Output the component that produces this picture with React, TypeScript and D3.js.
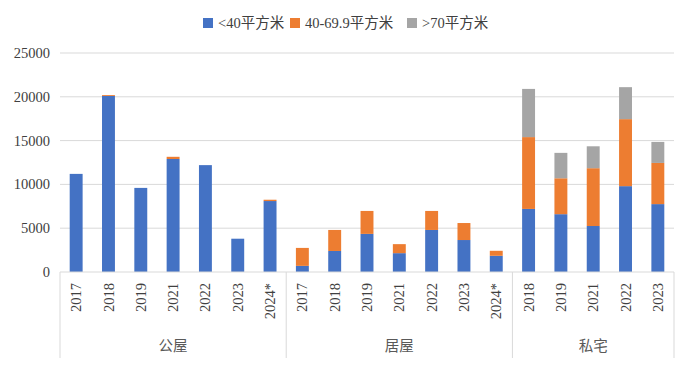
import React from "react";
import * as d3 from "d3";

// groups and their year labels
const groups = ["公屋", "居屋", "私宅"];
const groupYears = [
  ["2017", "2018", "2019", "2021", "2022", "2023", "2024*"],
  ["2017", "2018", "2019", "2021", "2022", "2023", "2024*"],
  ["2018", "2019", "2021", "2022", "2023"],
];

// series values, in the same order as the categories above
const seriesNames = ["<40平方米", "40-69.9平方米", ">70平方米"];
const small = [11200, 20100, 9600, 12900, 12200, 3800, 8100, 700, 2400, 4350, 2150, 4800, 3650, 1850, 7200, 6600, 5250, 9800, 7750];
const medium = [0, 100, 0, 250, 0, 0, 150, 2050, 2400, 2620, 1030, 2170, 1940, 570, 8200, 4100, 6600, 7650, 4700];
const large = [0, 0, 0, 0, 0, 0, 0, 0, 0, 0, 0, 0, 0, 0, 5500, 2900, 2500, 3650, 2400];
const yTicks = [0, 5000, 10000, 15000, 20000, 25000];

const colors = ["#4472C4", "#ED7D31", "#A5A5A5"];

const W = 693, H = 367;
const margin = { left: 60, right: 19, top: 53, bottom: 95 };

export default function App() {
  const cats: { key: string; year: string; group: number }[] = [];
  groupYears.forEach((ys, gi) => ys.forEach(y => cats.push({ key: gi + "|" + y, year: y, group: gi })));

  const rows = cats.map((c, i) => ({ key: c.key, s0: small[i], s1: medium[i], s2: large[i] }));
  const layers = d3.stack<any>().keys(["s0", "s1", "s2"])(rows);

  const x = d3.scaleBand()
    .domain(cats.map(c => c.key))
    .range([margin.left, W - margin.right])
    .paddingInner(0.6)
    .paddingOuter(0.3);

  const y = d3.scaleLinear().domain([0, 25000]).range([H - margin.bottom, margin.top]);

  const step = x.step();
  const x0 = margin.left;
  let bounds: number[] = [x0];
  let acc = 0;
  groupYears.forEach(ys => { acc += ys.length; bounds.push(x0 + acc * step); });

  const base = y(0);
  const font = "Liberation Serif, DejaVu Serif, Noto Sans CJK SC, serif";

  // legend positions
  const legendX = [203, 290, 407];

  return (
    <svg width={W} height={H} style={{ position: "absolute", left: 0, top: 0, background: "#fff" }}>
      {yTicks.map(t => (
        <g key={t}>
          {t > 0 && <line x1={margin.left} x2={W - margin.right} y1={y(t)} y2={y(t)} stroke="#d9d9d9" strokeWidth={1} />}
          <text x={50} y={y(t)} dy="0.35em" textAnchor="end" fontSize={14.5} style={{ fontFamily: font }} fill="#404040">{t}</text>
        </g>
      ))}

      {layers.map((layer, li) => (
        <g key={layer.key} fill={colors[li]}>
          {layer.map((d, i) => d[1] - d[0] > 0 ? (
            <rect key={i} x={x(cats[i].key)} width={x.bandwidth()} y={y(d[1])} height={y(d[0]) - y(d[1])} />
          ) : null)}
        </g>
      ))}

      <line x1={margin.left} x2={W - margin.right} y1={base} y2={base} stroke="#d9d9d9" strokeWidth={1} />
      {bounds.map((b, i) => (
        <line key={i} x1={b} x2={b} y1={base} y2={358} stroke="#d9d9d9" strokeWidth={1} />
      ))}

      {cats.map(c => {
        const cx = (x(c.key) as number) + x.bandwidth() / 2;
        return (
          <text key={c.key} transform={`translate(${cx},283) rotate(-90)`} dy="0.35em" textAnchor="end"
            fontSize={14.5} style={{ fontFamily: font }} fill="#404040">{c.year}</text>
        );
      })}

      {groups.map((g, gi) => (
        <text key={g} x={(bounds[gi] + bounds[gi + 1]) / 2} y={346} dy="0.35em" textAnchor="middle"
          fontSize={14.5} style={{ fontFamily: font }} fill="#595959">{g}</text>
      ))}

      {seriesNames.map((s, i) => (
        <g key={s}>
          <rect x={legendX[i]} y={18} width={10} height={10} fill={colors[i]} />
          <text x={legendX[i] + 15} y={23} dy="0.35em" fontSize={14.5} style={{ fontFamily: font }} fill="#404040">{s}</text>
        </g>
      ))}
    </svg>
  );
}
